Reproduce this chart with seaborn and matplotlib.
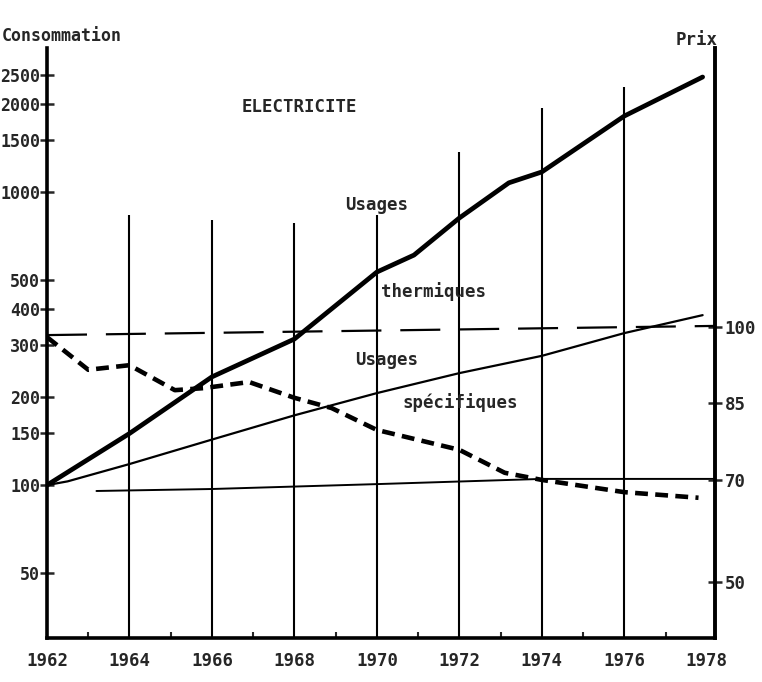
import numpy as np
import pandas as pd
import seaborn as sns
import matplotlib.pyplot as plt
from matplotlib.ticker import FixedLocator, NullLocator, FixedFormatter

# Consommation (echelle log, 1962 = 100)
therm_years = [1962, 1964, 1966, 1968, 1970, 1970.9, 1972, 1973.2, 1974, 1976, 1977.9]
therm_vals = [100, 150, 234, 315, 533, 609, 815, 1074, 1170, 1815, 2466]

spec_years = [1962, 1962.5, 1964, 1966, 1968, 1970, 1972, 1974, 1976, 1977.9]
spec_vals = [100, 103, 118, 143, 173, 206, 241, 276, 330, 380]

flat_years = [1963.2, 1966, 1970, 1974, 1978.2]
flat_vals = [95.5, 97, 100.8, 105, 105]

# Prix (echelle droite, lineaire)
price_years = [1962, 1963, 1964, 1965.1, 1965.8, 1966.9, 1968, 1968.9, 1970,
               1972, 1973.1, 1974, 1976, 1977.8]
price_vals = [98.0, 91.6, 92.5, 87.6, 88.0, 89.2, 86.1, 84.1, 79.8,
              75.9, 71.4, 70.0, 67.6, 66.5]
ref_years = [1962, 1978.2]
ref_vals = [98.4, 100.2]

# traits verticaux des annees paires
grid_years = [1964, 1966, 1968, 1970, 1972, 1974, 1976]
grid_tops = [834, 802, 783, 834, 1371, 1936, 2281]

year_ticks = [1962, 1964, 1966, 1968, 1970, 1972, 1974, 1976, 1978]
left_ticks = [50, 100, 150, 200, 300, 400, 500, 1000, 1500, 2000, 2500]
right_ticks = [50, 70, 85, 100]

sns.set_style("white")
plt.rcParams['font.family'] = ['DejaVu Sans Mono', 'DejaVu Sans']
plt.rcParams['font.weight'] = 'bold'

fig = plt.figure(figsize=(7.62, 6.82), dpi=100)
ax = fig.add_axes([47 / 762, 1 - 638 / 682, (715 - 47) / 762, (638 - 48) / 682])
ax.set_yscale('log')
ax.set_xlim(1962, 1978.2)
ax.set_ylim(30.1, 3097)

ax.vlines(grid_years, 30.1, grid_tops, color='black', lw=1.5)

sns.lineplot(x=therm_years, y=therm_vals, ax=ax, color='black', lw=3.4)
sns.lineplot(x=spec_years, y=spec_vals, ax=ax, color='black', lw=1.6)
sns.lineplot(x=flat_years, y=flat_vals, ax=ax, color='black', lw=1.4)

ax.yaxis.set_major_locator(FixedLocator(left_ticks))
ax.yaxis.set_major_formatter(FixedFormatter([str(v) for v in left_ticks]))
ax.yaxis.set_minor_locator(NullLocator())
ax.tick_params(axis='y', which='major', direction='inout', length=10, width=1.8,
               pad=0, labelsize=12, left=True)

ax.xaxis.set_major_locator(FixedLocator(year_ticks))
ax.xaxis.set_minor_locator(FixedLocator(np.arange(1963, 1978, 2)))
ax.tick_params(axis='x', which='major', length=0, pad=10, labelsize=12.5)
ax.tick_params(axis='x', which='minor', direction='in', length=4, width=1.5, bottom=True)

for s in ['top', 'right']:
    ax.spines[s].set_visible(False)
for s in ['left', 'bottom']:
    ax.spines[s].set_linewidth(2.6)
    ax.spines[s].set_color('black')

ax2 = ax.twinx()
ax2.set_ylim(39.0, 154.7)
sns.lineplot(x=price_years, y=price_vals, ax=ax2, color='black', lw=3.3,
             linestyle=(0, (2.8, 1.6)))
sns.lineplot(x=ref_years, y=ref_vals, ax=ax2, color='black', lw=1.6,
             linestyle=(0, (18, 8.5)))
ax2.set_xlim(1962, 1978.2)
ax2.yaxis.set_major_locator(FixedLocator(right_ticks))
ax2.tick_params(axis='y', direction='inout', length=10, width=1.8, pad=2,
                labelsize=12.5, right=True)
for s in ['top', 'left', 'bottom']:
    ax2.spines[s].set_visible(False)
ax2.spines['right'].set_linewidth(2.8)
ax2.spines['right'].set_color('black')

for a in (ax, ax2):
    a.set_xlabel('')
    a.set_ylabel('')

txt = dict(fontsize=12.5, fontweight='bold', ha='center', va='center')
fig.text(299 / 762, 1 - 107 / 682, 'ELECTRICITE', **txt)
fig.text(377 / 762, 1 - 205 / 682, 'Usages', **txt)
fig.text(433 / 762, 1 - 292 / 682, 'thermiques', **txt)
fig.text(387 / 762, 1 - 360 / 682, 'Usages', **txt)
fig.text(460 / 762, 1 - 403 / 682, 'spécifiques', **txt)
fig.text(697 / 762, 1 - 40 / 682, 'Prix', **txt)
fig.text(2 / 762, 1 - 36 / 682, 'Consommation', fontsize=12, fontweight='bold',
         ha='left', va='center')

plt.savefig('out.png', dpi=100)
